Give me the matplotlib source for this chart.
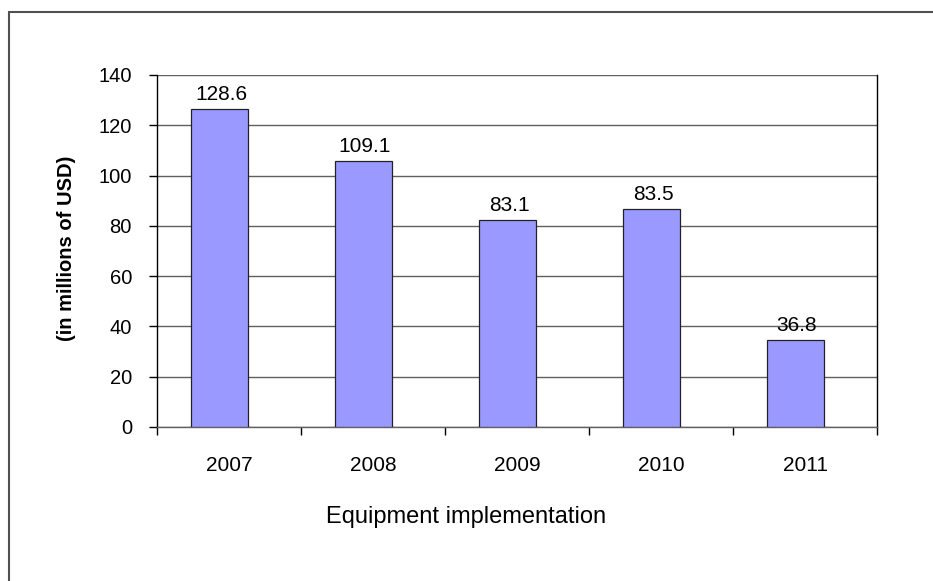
import matplotlib.pyplot as plt
from matplotlib.patches import Rectangle

plt.rcParams['font.family'] = ['Liberation Sans', 'DejaVu Sans']

# Chart data (bar heights as drawn, labels as printed)
years = ['2007', '2008', '2009', '2010', '2011']
heights = [126.6, 105.8, 82.5, 86.7, 34.5]
value_labels = ['128.6', '109.1', '83.1', '83.5', '36.8']
yticks = [0, 20, 40, 60, 80, 100, 120, 140]

fig = plt.figure(figsize=(9.33, 5.81), dpi=100)
ax = fig.add_axes([157/933, 1 - 427/581, 720/933, 352/581])

# outer chart frame (cut off on the right and bottom)
fig.patches.append(Rectangle((8.5/933, -0.1), 1.2, 1.1 - 12.5/581,
                             transform=fig.transFigure, fill=False,
                             edgecolor='#505050', linewidth=1.5))

# bars sit a little left of the category centre in the original
x = list(range(len(years)))
xb = [i - 0.065 for i in x]
bars = ax.bar(xb, heights, width=0.4, color='#9999FF',
              edgecolor='#222222', linewidth=0.9, zorder=3)

for b, lab in zip(bars, value_labels):
    ax.annotate(lab, (b.get_x() + b.get_width()/2, b.get_height()),
                xytext=(1, 3.5), textcoords='offset points',
                ha='center', va='bottom', fontsize=15)

ax.set_xlim(-0.5, 4.5)
ax.set_ylim(0, 140)
ax.set_yticks(yticks)
ax.yaxis.grid(True, color='#606060', linewidth=1.0, zorder=0)

# year labels on minor ticks, tick marks between categories
ax.set_xticks([i - 0.5 for i in range(len(years) + 1)])
ax.set_xticklabels([])
ax.set_xticks(x, minor=True)
ax.set_xticklabels(years, minor=True, fontsize=15)
ax.tick_params(axis='x', which='major', direction='out', length=6,
               width=1, color='black')
ax.tick_params(axis='x', which='minor', length=0, pad=21)
ax.tick_params(axis='y', direction='out', length=6, width=1,
               color='black', labelsize=14.5, pad=12)

ax.spines['top'].set_visible(False)
ax.spines['left'].set_color('black')
ax.spines['right'].set_color('black')
ax.spines['bottom'].set_color('#606060')
for s in ['left', 'right', 'bottom']:
    ax.spines[s].set_linewidth(1.0)

fig.text(67/933, 1 - 248/581, '(in millions of USD)', rotation=90,
         ha='center', va='center', fontsize=14.5, fontweight='bold')
fig.text(0.5, 1 - 517/581, 'Equipment implementation', ha='center',
         va='center', fontsize=17)

plt.savefig('out.png', dpi=100)
